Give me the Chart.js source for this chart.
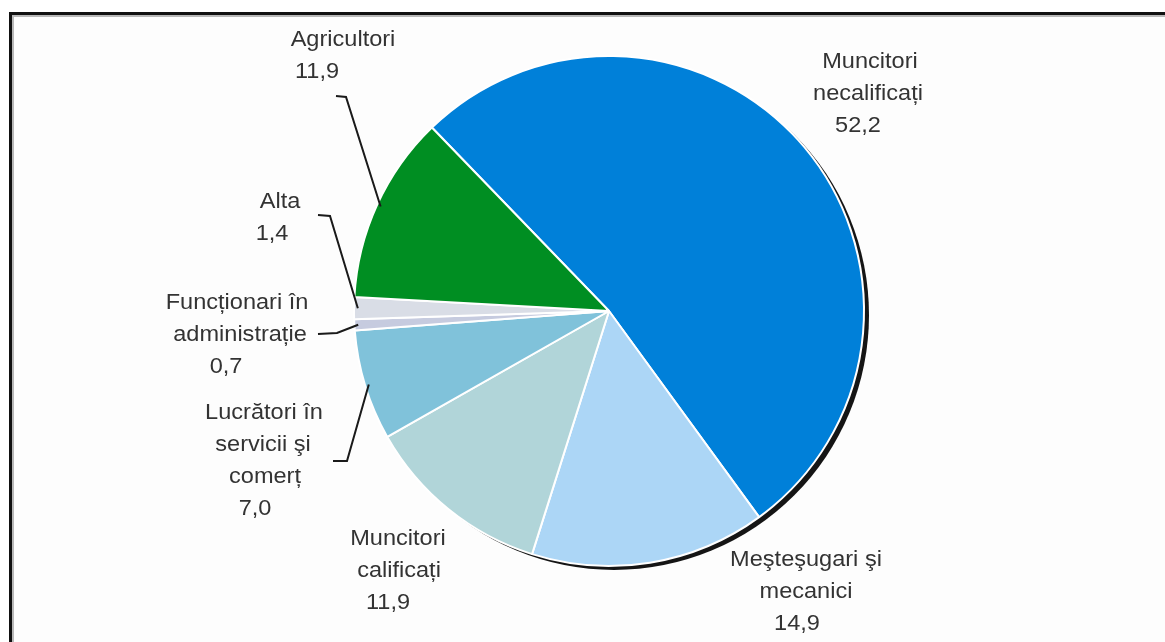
<!DOCTYPE html>
<html>
<head>
<meta charset="utf-8">
<script src="https://cdn.jsdelivr.net/npm/chart.js@4.4.0/dist/chart.umd.min.js"></script>
<style>
    html, body { margin: 0; padding: 0; background: #fff; }
    #wrap { position: relative; width: 1165px; height: 642px; overflow: hidden; }
    #frame {
        position: absolute; left: 9px; top: 12px; width: 1200px; height: 700px;
        border-left: 3px solid #111; border-top: 3px solid #111;
        background: #fdfdfd; box-shadow: inset 2px 2px 0 #b8b8b8;
    }
    canvas { position: absolute; left: 0; top: 0; }
</style>
</head>
<body>
<div id="wrap">
    <div id="frame"></div>
    <canvas id="pie" width="1165" height="642"></canvas>
</div>
<script>
const categories = [
    'Muncitori\nnecalificați',
    'Meşteşugari şi\nmecanici',
    'Muncitori\ncalificați',
    'Lucrători în\nservicii şi\ncomerț',
    'Funcționari în\nadministrație',
    'Alta',
    'Agricultori'
];
const shares = [52.2, 14.9, 11.9, 7.0, 0.7, 1.4, 11.9];
const sliceColors = ['#0080d9', '#acd6f6', '#b1d5d9', '#80c2da', '#c6cbdf', '#d9dde6', '#008e22'];

// where each label sits, relative to the pie centre (x of every line, y of first line)
const labelX = [
    [261, 259, 249],
    [197, 197, 188],
    [-211, -210, -221],
    [-345, -346, -344, -354],
    [-372, -369, -383],
    [-329, -337],
    [-266, -292]
];
const labelY = [-249, 249, 228, 102, -8, -109, -271];
// leader lines: two points next to the label, then into the slice
const leaders = {
    3: [[-276, 150], [-262, 150]],
    4: [[-291, 23], [-272, 22]],
    5: [[-291, -96], [-279, -95]],
    6: [[-273, -215], [-263, -214]]
};

function fmt(v) {
    return v.toFixed(1).replace('.', ',');
}

const pieExtras = {
    id: 'pieExtras',
    beforeDatasetsDraw(chart) {
        // dark drop shadow behind the pie
        const arc = chart.getDatasetMeta(0).data[0];
        const ctx = chart.ctx;
        ctx.save();
        ctx.fillStyle = '#151515';
        ctx.beginPath();
        ctx.arc(arc.x + 5, arc.y + 4, arc.outerRadius, 0, Math.PI * 2);
        ctx.fill();
        ctx.restore();
    },
    afterDatasetsDraw(chart) {
        const ctx = chart.ctx;
        const arcs = chart.getDatasetMeta(0).data;
        const cx = arcs[0].x, cy = arcs[0].y, r = arcs[0].outerRadius;
        ctx.save();
        ctx.strokeStyle = '#1a1a1a';
        ctx.lineWidth = 2;
        Object.keys(leaders).forEach(k => {
            const a = arcs[k];
            const mid = (a.startAngle + a.endAngle) / 2;
            const pts = leaders[k];
            ctx.beginPath();
            ctx.moveTo(cx + pts[0][0], cy + pts[0][1]);
            ctx.lineTo(cx + pts[1][0], cy + pts[1][1]);
            ctx.lineTo(cx + Math.cos(mid) * r * 0.985, cy + Math.sin(mid) * r * 0.985);
            ctx.stroke();
        });

        ctx.fillStyle = '#333333';
        ctx.font = '22px "Liberation Sans", Arial, sans-serif';
        ctx.textAlign = 'center';
        ctx.textBaseline = 'middle';
        categories.forEach((name, i) => {
            const lines = name.split('\n').concat([fmt(shares[i])]);
            lines.forEach((t, j) => {
                ctx.save();
                ctx.translate(cx + labelX[i][j], cy + labelY[i] + j * 32);
                ctx.scale(1.07, 1);
                ctx.fillText(t, 0, 0);
                ctx.restore();
            });
        });
        ctx.restore();
    }
};

new Chart(document.getElementById('pie'), {
    type: 'pie',
    data: {
        labels: categories,
        datasets: [{
            data: shares,
            backgroundColor: sliceColors,
            borderColor: '#ffffff',
            borderWidth: 2,
            hoverOffset: 0
        }]
    },
    options: {
        responsive: false,
        animation: false,
        rotation: -44,
        layout: { padding: { left: 309, right: 256, top: 55, bottom: 75 } },
        plugins: {
            legend: { display: false },
            tooltip: { enabled: false }
        }
    },
    plugins: [pieExtras]
});
</script>
</body>
</html>
